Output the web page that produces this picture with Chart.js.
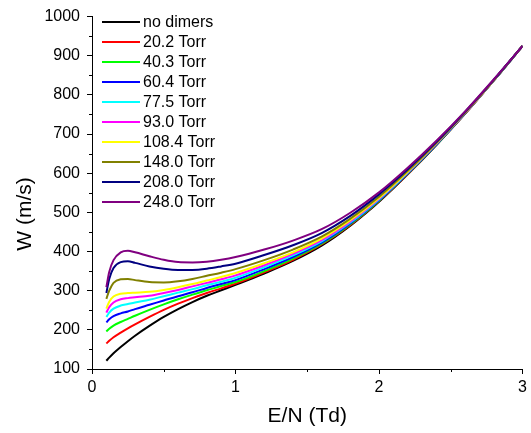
<!DOCTYPE html>
<html>
<head>
<meta charset="utf-8">
<script src="https://cdn.jsdelivr.net/npm/chart.js@4"></script>
<style>
  body { margin: 0; background: #fff; }
  canvas { display: block; }
</style>
</head>
<body>
<canvas id="chart" width="531" height="433"></canvas>
<script>
// E/N grid (Td) shared by every curve
const EN = [0.1, 0.12, 0.15, 0.2, 0.25, 0.3, 0.4, 0.5, 0.6, 0.7, 0.8, 0.9, 1.0, 1.2, 1.4, 1.6, 1.8, 2.0, 2.2, 2.4, 2.6, 2.8, 3.0];

const LABELS = ["no dimers", "20.2 Torr", "40.3 Torr", "60.4 Torr", "77.5 Torr", "93.0 Torr", "108.4 Torr", "148.0 Torr", "208.0 Torr", "248.0 Torr"];
const COLORS = ["#000000", "#ff0000", "#00ff00", "#0000ff", "#00ffff", "#ff00ff", "#ffff00", "#808000", "#000080", "#800080"];

// drift velocity W (m/s)
const noDimers = [121, 129, 140, 156, 171, 185, 210, 233, 253, 271, 287, 301, 315, 344, 376, 415, 466, 527, 597, 672, 752, 837, 925];
const t20 = [165, 172, 181, 193, 204, 214, 233, 251, 267, 281, 294, 306, 318, 347, 379, 418, 468, 529, 598, 673, 752, 837, 925];
const t40 = [196, 203, 211, 220, 228, 236, 251, 265, 278, 290, 301, 312, 322, 350, 382, 420, 470, 530, 599, 673, 753, 837, 925];
const t60 = [219, 227, 235, 242, 247, 253, 264, 275, 286, 296, 307, 317, 327, 355, 386, 423, 472, 531, 600, 674, 753, 837, 925];
const t77 = [233, 244, 254, 262, 266, 270, 277, 286, 295, 304, 314, 323, 333, 360, 390, 426, 474, 533, 601, 675, 754, 838, 925];
const t93 = [244, 258, 270, 278, 281, 283, 287, 294, 302, 311, 320, 329, 339, 365, 394, 429, 477, 535, 603, 676, 754, 838, 925];
const t108 = [254, 272, 285, 292, 294, 295, 297, 302, 309, 317, 326, 335, 345, 370, 398, 433, 480, 537, 604, 677, 755, 838, 925];
const t148 = [279, 300, 320, 329, 330, 327, 322, 321, 324, 330, 338, 346, 355, 378, 405, 438, 484, 540, 606, 678, 755, 838, 925];
const t208 = [294, 330, 358, 373, 375, 371, 362, 356, 353, 353, 356, 362, 369, 391, 416, 447, 491, 546, 610, 680, 757, 839, 925];
const t248 = [309, 348, 378, 398, 402, 398, 388, 379, 373, 372, 374, 379, 386, 405, 428, 457, 499, 551, 614, 683, 758, 840, 925];

const SERIES = [noDimers, t20, t40, t60, t77, t93, t108, t148, t208, t248];

const FONT = "Arial, 'Liberation Sans', sans-serif";

// minor ticks, y title and the inset legend
const extras = {
  id: "extras",
  afterDraw(chart) {
    const { ctx, scales: { x, y } } = chart;
    ctx.save();
    ctx.strokeStyle = "#000";
    ctx.lineWidth = 1;
    ctx.beginPath();
    for (let v = 0.5; v < 3; v += 1) {
      const px = Math.round(x.getPixelForValue(v)) + 0.5;
      ctx.moveTo(px, y.bottom);
      ctx.lineTo(px, y.bottom + 3);
    }
    for (let v = 150; v < 1000; v += 100) {
      const py = Math.round(y.getPixelForValue(v)) + 0.5;
      ctx.moveTo(x.left, py);
      ctx.lineTo(x.left - 3, py);
    }
    ctx.stroke();

    ctx.fillStyle = "#000";
    ctx.save();
    ctx.translate(25, 214);
    ctx.rotate(-Math.PI / 2);
    ctx.font = "21px " + FONT;
    ctx.textAlign = "center";
    ctx.textBaseline = "middle";
    ctx.fillText("W (m/s)", 0, 0);
    ctx.restore();

    ctx.font = "16px " + FONT;
    ctx.textBaseline = "middle";
    chart.data.datasets.forEach((ds, i) => {
      const ly = 22 + 20 * i;
      ctx.strokeStyle = ds.borderColor;
      ctx.lineWidth = 2;
      ctx.beginPath();
      ctx.moveTo(102, ly);
      ctx.lineTo(140, ly);
      ctx.stroke();
      ctx.fillText(ds.label, 143, ly + 1);
    });
    ctx.restore();
  },
};

new Chart(document.getElementById("chart"), {
  type: "line",
  data: {
    datasets: SERIES.map((vals, i) => ({
      label: LABELS[i],
      data: vals.map((w, k) => ({ x: EN[k], y: w })),
      borderColor: COLORS[i],
      borderWidth: 2,
      pointRadius: 0,
      cubicInterpolationMode: "monotone",
      fill: false,
      order: SERIES.length - i,
    })),
  },
  options: {
    responsive: false,
    devicePixelRatio: 1,
    animation: false,
    layout: { padding: { top: 15, right: 4, left: 0, bottom: 4 } },
    plugins: { legend: { display: false }, tooltip: { enabled: false } },
    scales: {
      x: {
        type: "linear",
        min: 0,
        max: 3,
        afterFit: (s) => { s.height = 60; },
        ticks: { stepSize: 1, color: "#000", font: { family: FONT, size: 16 }, padding: 4, maxRotation: 0 },
        grid: { drawOnChartArea: false, drawTicks: true, tickLength: 5, color: "#000" },
        border: { display: true, color: "#000", width: 1 },
        title: { display: true, text: "E/N (Td)", color: "#000", font: { family: FONT, size: 21 }, padding: { top: 0, bottom: 0 } },
      },
      y: {
        min: 100,
        max: 1000,
        afterFit: (s) => { s.width = 92; },
        ticks: { stepSize: 100, color: "#000", font: { family: FONT, size: 16 }, padding: 7, callback: (v) => String(v) },
        grid: { drawOnChartArea: false, drawTicks: true, tickLength: 5, color: "#000" },
        border: { display: true, color: "#000", width: 1 },
        title: { display: false },
      },
    },
  },
  plugins: [extras],
});
</script>
</body>
</html>
